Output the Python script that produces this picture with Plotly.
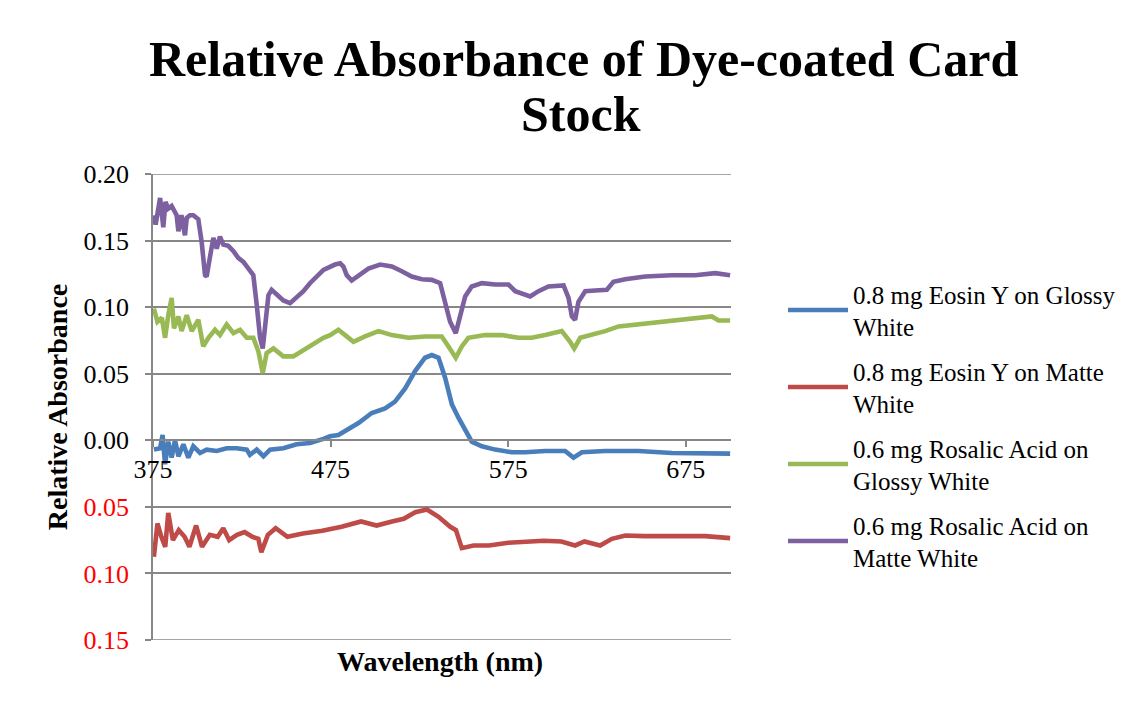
import plotly.graph_objects as go

# ---------------- data ----------------
wl_eosin_glossy = [375.5, 379, 380.4, 381.8, 383.6, 385.5, 387.4, 389.3, 392.1, 394.9, 397.7, 401.5,
                   405.2, 410.9, 416.5, 422.1, 427.8, 429.6, 433.4, 437.2, 440.9, 448.4, 455.9, 463.4,
                   471, 474.7, 479.4, 485, 490.7, 498.2, 505.7, 511.3, 517, 522.6, 528.2, 532, 535.8,
                   539.5, 543.3, 547, 550.8, 554.5, 560.2, 567.7, 577.1, 584.6, 595.8, 607.1, 611.8,
                   616.5, 629.6, 648.4, 667.2, 686, 700]
abs_eosin_glossy = [-0.007, -0.006, 0.004, -0.018, -0.001, -0.013, 0.000, -0.012, -0.003, -0.013, -0.0045, -0.0095,
                    -0.007, -0.008, -0.006, -0.006, -0.007, -0.011, -0.007, -0.012, -0.007, -0.006, -0.003, -0.002,
                    0.001, 0.003, 0.004, 0.008, 0.013, 0.0205, 0.024, 0.029, 0.039, 0.052, 0.062, 0.064, 0.062,
                    0.047, 0.027, 0.017, 0.007, -0.001, -0.0045, -0.007, -0.009, -0.009, -0.008, -0.008, -0.013,
                    -0.009, -0.008, -0.008, -0.0095, -0.010, -0.010]

wl_eosin_matte = [375.5, 377.5, 379.7, 381.9, 383.6, 386.2, 389.5, 392.8, 395.5, 399.3, 402.6, 407,
                  411.4, 414.6, 417.9, 422.3, 426.6, 431, 434.3, 436.0, 439.7, 444.1, 450.7, 459.4,
                  470.3, 481.2, 492.2, 500.9, 509.6, 516.2, 522.7, 529.3, 535.8, 542.4, 545.6, 548.9,
                  555.5, 564.2, 575.1, 586, 595, 605, 612.7, 618, 626.8, 633.4, 641, 651.6, 667, 686, 700]
abs_eosin_matte = [-0.0875, -0.0625, -0.0725, -0.080, -0.0545, -0.075, -0.0675, -0.0725, -0.080, -0.064, -0.080, -0.071,
                   -0.0725, -0.066, -0.075, -0.071, -0.069, -0.0725, -0.074, -0.084, -0.071, -0.066, -0.0725, -0.070,
                   -0.068, -0.065, -0.061, -0.064, -0.061, -0.059, -0.054, -0.052, -0.0575, -0.065, -0.0675, -0.081,
                   -0.079, -0.079, -0.077, -0.076, -0.0755, -0.076, -0.079, -0.076, -0.079, -0.074, -0.0715, -0.072,
                   -0.072, -0.072, -0.0735]

wl_rosalic_glossy = [375.5, 377.5, 380, 381.8, 383.6, 385.5, 386.8, 389.3, 391.1, 394, 396.8, 400.5,
                     403.3, 406.2, 409.9, 412.7, 416.5, 420.3, 424, 427.8, 431.5, 434.3, 436.8, 439,
                     442.8, 448.4, 454, 459.7, 465.3, 471, 474.7, 479.4, 483.2, 487.9, 494.4, 502,
                     509.5, 518.9, 528.2, 537.6, 541.4, 545.5, 548.9, 552.6, 562, 571.4, 580.8, 588.3,
                     595.8, 605.2, 609.9, 612.2, 615.6, 622.1, 629.6, 637.2, 648.4, 663.4, 678.5, 689.7,
                     693.5, 700]
abs_rosalic_glossy = [0.099, 0.089, 0.092, 0.077, 0.094, 0.107, 0.084, 0.093, 0.082, 0.094, 0.082, 0.0905,
                      0.0705, 0.077, 0.083, 0.079, 0.087, 0.0805, 0.083, 0.077, 0.077, 0.067, 0.0505, 0.0655,
                      0.069, 0.063, 0.063, 0.068, 0.072, 0.077, 0.079, 0.083, 0.079, 0.074, 0.078, 0.082,
                      0.079, 0.077, 0.078, 0.078, 0.0705, 0.062, 0.0705, 0.077, 0.079, 0.079, 0.077, 0.077,
                      0.079, 0.082, 0.074, 0.069, 0.077, 0.079, 0.082, 0.0855, 0.087, 0.089, 0.091, 0.093,
                      0.090, 0.090]

wl_rosalic_matte = [375.5, 376.5, 379, 380.8, 382, 383.6, 385.5, 388.3, 389.3, 391, 393, 394,
                    395.8, 397.7, 400.5, 402.4, 404.3, 405.2, 407, 409, 410.9, 412.7, 414.6, 417.4,
                    420.3, 423, 425.9, 428.7, 431.5, 433.4, 435.3, 436.8, 438.1, 440, 441.8, 444.7,
                    448.4, 452.2, 455.9, 459.7, 463.4, 467.2, 471, 477.5, 480.4, 482.2, 484.1, 486.9,
                    490.7, 496.3, 502.9, 509.5, 515.1, 520.7, 526.4, 532, 536.7, 539.5, 542.3, 545.5,
                    548, 550.8, 554.5, 560.2, 567.7, 575.2, 579, 587.4, 592.1, 597.7, 606.2, 609,
                    610.9, 612.7, 614.6, 618.4, 624, 630.6, 634.3, 640.9, 652.2, 667.2, 680.3, 691.6, 700]
abs_rosalic_matte = [0.169, 0.162, 0.182, 0.160, 0.179, 0.174, 0.176, 0.169, 0.157, 0.169, 0.154, 0.167,
                     0.169, 0.169, 0.166, 0.149, 0.124, 0.123, 0.137, 0.152, 0.144, 0.153, 0.147, 0.146,
                     0.142, 0.137, 0.134, 0.129, 0.124, 0.102, 0.077, 0.069, 0.087, 0.109, 0.113, 0.109,
                     0.105, 0.103, 0.107, 0.112, 0.118, 0.123, 0.128, 0.132, 0.133, 0.1305, 0.124, 0.120,
                     0.124, 0.129, 0.132, 0.1305, 0.127, 0.123, 0.121, 0.1205, 0.118, 0.104, 0.089, 0.0805,
                     0.094, 0.108, 0.1155, 0.118, 0.117, 0.117, 0.112, 0.108, 0.112, 0.1155, 0.1163, 0.107,
                     0.093, 0.0905, 0.104, 0.112, 0.1125, 0.113, 0.119, 0.121, 0.123, 0.124, 0.124, 0.1255, 0.124]

series_names = ["0.8 mg Eosin Y on Glossy<br>White",
                "0.8 mg Eosin Y on Matte<br>White",
                "0.6 mg Rosalic Acid on<br>Glossy White",
                "0.6 mg Rosalic Acid on<br>Matte White"]
series_colors = ["#4A7EBB", "#BE4B48", "#98B954", "#7D60A0"]

title_lines = ["Relative Absorbance of Dye-coated Card", "Stock"]
y_tick_vals = [0.20, 0.15, 0.10, 0.05, 0.00, -0.05, -0.10, -0.15]
x_tick_vals = [375, 475, 575, 675]
x_range = [375, 700.5]
y_range = [-0.15, 0.20]

# ---------------- figure ----------------
FONT = "Liberation Serif"
GRID = "#878787"

# the page places the figure 8px from the top-left corner
W, H = 1129, 686
L, R, T, B = 145, 406, 166, 54
pw = W - L - R
ph = H - T - B


def px_x(x):  # figure-pixel -> paper x
    return (x - L) / pw


def px_y(y):  # figure-pixel -> paper y
    return (H - B - y) / ph


fig = go.Figure()
xs = [wl_eosin_glossy, wl_eosin_matte, wl_rosalic_glossy, wl_rosalic_matte]
ys = [abs_eosin_glossy, abs_eosin_matte, abs_rosalic_glossy, abs_rosalic_matte]
for i, (x, y) in enumerate(zip(xs, ys)):
    fig.add_trace(go.Scatter(x=x, y=y, mode="lines", name=series_names[i],
                             legendgroup=f"g{i}",
                             line=dict(color=series_colors[i], width=4.6)))


def ytext(v):
    s = f"{abs(v):.2f}"
    return f"<span style='color:#FF0000'>{s}</span>" if v < 0 else s


zero_frac = (0 - y_range[0]) / (y_range[1] - y_range[0])

annotations = [
    dict(text=f"<b>{title_lines[0]}</b>", xref="paper", yref="paper",
         x=px_x(575), y=px_y(51), xanchor="center", yanchor="middle", showarrow=False,
         font=dict(family=FONT, size=50, color="black")),
    dict(text=f"<b>{title_lines[1]}</b>", xref="paper", yref="paper",
         x=px_x(573), y=px_y(106), xanchor="center", yanchor="middle", showarrow=False,
         font=dict(family=FONT, size=50, color="black")),
    dict(text="<b>Wavelength (nm)</b>", xref="paper", yref="paper",
         x=px_x(432), y=px_y(653), xanchor="center", yanchor="middle",
         showarrow=False, font=dict(family=FONT, size=28, color="black")),
]

# gridlines at the two ends of the value range (Plotly omits those at the plot edges)
edge_grid = [dict(type="line", xref="paper", x0=-6 / pw, x1=1, yref="y", y0=v, y1=v,
                  line=dict(color=GRID, width=1.5), layer="below")
             for v in (max(y_tick_vals), min(y_tick_vals))]

fig.update_layout(
    width=W, height=H,
    margin=dict(l=L, r=R, t=T, b=B),
    paper_bgcolor="white", plot_bgcolor="white",
    font=dict(family=FONT, color="black", size=26),
    showlegend=True,
    legend=dict(x=px_x(775), xanchor="left", y=px_y(263), yanchor="top",
                font=dict(family=FONT, size=25, color="black"),
                tracegroupgap=9, itemwidth=60, bgcolor="rgba(0,0,0,0)"),
    xaxis=dict(range=x_range, tickvals=x_tick_vals, ticktext=[str(v) for v in x_tick_vals],
               anchor="free", position=zero_frac,
               showline=True, linecolor=GRID, linewidth=1.5,
               ticks="outside", ticklen=6, tickcolor=GRID, tickwidth=1.5,
               showgrid=False, zeroline=False,
               tickfont=dict(family=FONT, size=26, color="black")),
    yaxis=dict(range=y_range, tickvals=y_tick_vals, ticktext=[ytext(v) for v in y_tick_vals],
               showline=True, linecolor=GRID, linewidth=1.5,
               ticks="outside", ticklen=6, tickcolor=GRID, tickwidth=1.5,
               showgrid=True, gridcolor=GRID, gridwidth=1.5, zeroline=False,
               tickfont=dict(family=FONT, size=26, color="black"),
               ticklabelstandoff=11,
               title=dict(text="<b>Relative Absorbance</b>", standoff=8,
                          font=dict(family=FONT, size=28, color="black"))),
    annotations=annotations,
    shapes=edge_grid,
)

fig.write_html("out.html")
